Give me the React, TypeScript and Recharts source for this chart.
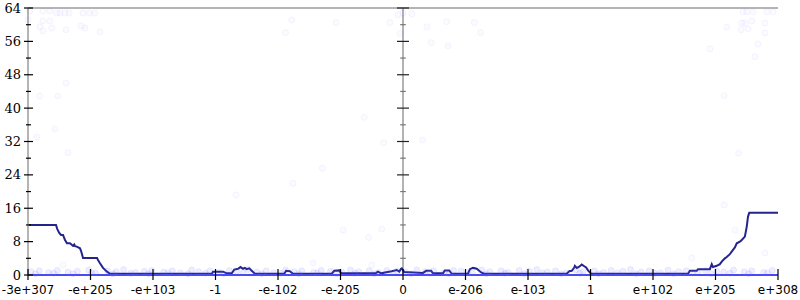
import React from 'react';
import { ComposedChart, Line, Scatter, XAxis, YAxis, ReferenceLine } from 'recharts';

const X_TICKS = [0, 1, 2, 3, 4, 5, 6, 7, 8, 9, 10, 11, 12];
const X_LABELS = [
  '-3e+307', '-e+205', '-e+103', '-1', '-e-102', '-e-205', '0',
  'e-206', 'e-103', '1', 'e+102', 'e+205', 'e+308',
];
const Y_TICKS = [0, 4, 8, 12, 16, 20, 24, 28, 32, 36, 40, 44, 48, 52, 56, 60, 64];

// median line (x in tick units)
const TREND: [number, number][] = [
  [0, 12], [0.448, 12], [0.469, 11], [0.5, 10.1], [0.528, 9.6], [0.56, 9.6],
  [0.592, 8.4], [0.624, 7.6], [0.672, 7.6], [0.704, 7.2], [0.72, 7.0], [0.74, 7.3],
  [0.752, 6.9], [0.78, 6.8], [0.832, 6.4], [0.848, 5.8], [0.875, 4.4], [0.88, 4.1],
  [1.104, 4.1], [1.12, 3.6], [1.152, 2.8], [1.2, 1.7], [1.264, 0.8], [1.312, 0.3],
  [2.944, 0.3], [2.96, 0.8], [3.12, 0.8], [3.18, 0.4], [3.26, 0.4], [3.3, 1.3],
  [3.36, 1.5], [3.4, 1.9], [3.44, 1.5], [3.47, 1.7], [3.5, 1.4], [3.54, 1.6],
  [3.58, 1.0], [3.63, 0.3], [4.1, 0.3], [4.13, 1.0], [4.19, 0.9], [4.24, 0.3],
  [4.86, 0.3], [4.9, 1.0], [4.98, 1.1], [5.01, 0.4], [5.47, 0.4], [5.57, 0.5],
  [5.6, 0.8], [5.65, 0.4], [5.71, 0.6], [5.82, 0.9], [5.9, 1.2], [5.94, 0.8],
  [5.97, 1.5], [5.98, 1.6], [6.02, 0.7], [6.32, 0.5], [6.37, 1.0], [6.45, 1.0],
  [6.48, 0.4], [6.64, 0.4], [6.67, 1.1], [6.74, 1.1], [6.78, 0.3], [7.04, 0.3],
  [7.07, 1.4], [7.12, 1.7], [7.18, 1.5], [7.25, 0.6], [7.3, 0.3], [8.62, 0.3],
  [8.66, 0.9], [8.7, 1.0], [8.74, 1.8], [8.75, 2.2], [8.78, 1.7], [8.82, 2.0],
  [8.86, 2.5], [8.9, 2.1], [8.93, 1.8], [8.96, 1.1], [9.01, 0.3], [10.56, 0.3],
  [10.59, 1.0], [10.7, 1.0], [10.72, 1.4], [10.91, 1.4], [10.94, 2.6], [10.96, 1.9],
  [11.02, 2.2], [11.07, 2.6], [11.1, 3.2], [11.15, 4.0], [11.18, 4.3], [11.23, 5.0],
  [11.28, 6.0], [11.31, 6.6], [11.34, 7.6], [11.39, 8.0], [11.42, 8.4], [11.47, 9.2],
  [11.5, 11.6], [11.52, 14.0], [11.54, 14.9], [12, 14.9],
];

// the dense band of samples near zero
const BAND_DOTS: [number, number][] = [
  [0.05, 0.8], [0.18, 1.0], [0.33, 0.6], [0.47, 1.1], [0.64, 0.7], [0.79, 0.9],
  [0.97, 1.2], [1.08, 0.5], [1.27, 1.0], [1.41, 0.8], [1.53, 1.3], [1.72, 0.6],
  [1.86, 0.9], [1.98, 1.1], [2.17, 0.7], [2.31, 1.0], [2.44, 0.5], [2.62, 1.2],
  [2.73, 0.8], [2.91, 1.0], [3.06, 0.6], [3.22, 1.1], [3.34, 0.9], [3.52, 1.3],
  [3.66, 0.7], [3.81, 1.0], [3.93, 0.5], [4.12, 1.2], [4.26, 0.8], [4.38, 1.0],
  [4.57, 0.6], [4.69, 1.1], [4.84, 0.9], [5.02, 0.7], [5.16, 1.2], [5.29, 0.8],
  [5.46, 1.0], [5.61, 0.6], [5.74, 1.1], [5.91, 0.9], [6.04, 0.7], [6.22, 1.2],
  [6.36, 0.8], [6.49, 1.0], [6.66, 0.6], [6.81, 1.1], [6.93, 0.9], [7.11, 0.5],
  [7.26, 1.2], [7.39, 0.8], [7.57, 1.0], [7.68, 0.6], [7.86, 1.1], [8.02, 0.9],
  [8.14, 1.3], [8.31, 0.7], [8.44, 1.0], [8.61, 0.5], [8.77, 1.2], [8.88, 0.8],
  [9.06, 1.0], [9.21, 0.6], [9.33, 1.1], [9.52, 0.9], [9.64, 1.3], [9.81, 0.7],
  [9.94, 1.0], [10.12, 0.5], [10.24, 1.2], [10.41, 0.8], [10.53, 1.0], [10.72, 0.6],
  [10.84, 1.1], [11.02, 0.9], [11.13, 0.7], [11.29, 1.2], [11.46, 0.8], [11.58, 1.0],
  [11.77, 0.6], [11.91, 1.1],
  [0.12, 0.3], [0.41, 0.4], [0.72, 0.3], [1.02, 0.5], [1.36, 0.3], [1.64, 0.4],
  [1.93, 0.3], [2.24, 0.5], [2.56, 0.3], [2.84, 0.4], [3.13, 0.3], [3.44, 0.5],
  [3.74, 0.3], [4.04, 0.4], [4.33, 0.3], [4.63, 0.5], [4.94, 0.3], [5.23, 0.4],
  [5.54, 0.3], [5.83, 0.5], [6.13, 0.3], [6.43, 0.4], [6.74, 0.3], [7.03, 0.5],
  [7.33, 0.3], [7.63, 0.4], [7.94, 0.3], [8.23, 0.5], [8.53, 0.3], [8.83, 0.4],
  [9.13, 0.3], [9.43, 0.5], [9.73, 0.3], [10.03, 0.4], [10.33, 0.3], [10.63, 0.5],
  [10.93, 0.3], [11.23, 0.4], [11.53, 0.3], [11.83, 0.5],
];

// stray samples higher up
const STRAY_DOTS: [number, number][] = [
  [0.03, 63.3], [0.24, 63.3], [0.35, 63.3], [0.46, 62.8], [0.51, 62.8], [0.59, 62.8],
  [0.66, 62.8], [0.88, 62.8], [0.98, 62.8], [1.07, 62.8], [0.0, 61.2], [0.24, 60.9],
  [0.35, 60.9], [0.19, 59.5], [0.24, 58.5], [0.38, 59.2], [0.61, 58.8], [0.85, 59.7],
  [0.91, 59.2], [1.15, 58.3], [0.61, 46.0], [0.19, 42.9], [0.48, 42.9], [0.43, 35.0],
  [0.14, 33.1], [0.64, 29.3], [0.56, 2.4], [3.33, 19.2], [4.24, 22.0], [4.71, 25.6],
  [5.38, 37.8], [5.69, 31.7], [6.31, 32.4], [5.04, 10.8], [5.45, 9.0], [5.66, 11.0],
  [4.56, 2.9], [5.5, 2.4], [4.12, 58.1], [4.22, 61.1], [4.93, 60.5], [5.79, 60.5],
  [5.92, 62.4], [6.0, 62.8], [6.14, 62.6], [5.95, 57.9], [6.38, 59.5], [6.45, 55.7],
  [6.72, 54.9], [6.7, 60.7], [7.14, 60.5], [7.24, 58.1], [11.18, 59.4], [10.91, 54.2],
  [11.14, 43.0], [11.37, 29.2], [11.14, 16.8], [11.31, 10.8], [10.62, 4.1], [11.79, 5.3],
  [11.44, 63.1], [11.5, 63.1], [11.6, 63.1], [11.82, 63.1], [11.92, 63.1], [11.42, 60.4],
  [11.47, 60.4], [11.58, 60.9], [11.79, 60.4], [11.41, 58.8], [11.52, 59.0], [11.79, 58.0],
  [11.68, 55.4], [11.63, 52.3],
];

const toPoints = (pairs: [number, number][]) => pairs.map(([x, y]) => ({ x, y }));

const trendData = toPoints(TREND);
const bandData = toPoints(BAND_DOTS);
const strayData = toPoints(STRAY_DOTS);

function YTick(props: any) {
  const { x, y, payload, label } = props;
  const major = payload.value % 8 === 0;
  return (
    <g>
      <line x1={x - (major ? 4 : 2)} x2={x + (major ? 5 : 3)} y1={y} y2={y} stroke="#000" strokeWidth={1.2} />
      {label && major && (
        <text x={x - 7} y={y} dy="0.35em" textAnchor="end" fontFamily="DejaVu Serif" fontSize={13} fill="#000">
          {payload.value}
        </text>
      )}
    </g>
  );
}

function XTick(props: any) {
  const { x, y, payload } = props;
  return (
    <g>
      <line x1={x} x2={x} y1={y - 6} y2={y + 5} stroke="#000" strokeWidth={1.2} />
      <text x={x} y={y + 18.5} textAnchor="middle" fontFamily="DejaVu Sans" fontSize={12} fill="#000">
        {X_LABELS[payload.value]}
      </text>
    </g>
  );
}

const BandDot = (p: any) => (
  <circle cx={p.cx} cy={p.cy} r={3} fill="#5a5aff" fillOpacity={0.1} stroke="#7878ff" strokeOpacity={0.12} />
);

const StrayDot = (p: any) => (
  <circle cx={p.cx} cy={p.cy} r={3} fill="#5a5aff" fillOpacity={0.025} stroke="#7878ff" strokeOpacity={0.07} />
);

export default function App() {
  return (
    <div style={{ position: 'absolute', left: 0, top: 0 }}>
      <ComposedChart width={800} height={300} margin={{ top: 8, right: 22, bottom: 0, left: 0 }}>
        <XAxis
          dataKey="x"
          type="number"
          domain={[0, 12]}
          ticks={X_TICKS}
          interval={0}
          height={25}
          tickSize={0}
          tickMargin={0}
          tick={(p: any) => <XTick {...p} />}
          axisLine={{ stroke: '#4a4af5', strokeWidth: 2 }}
        />
        <YAxis
          dataKey="y"
          type="number"
          domain={[0, 64]}
          ticks={Y_TICKS}
          interval={0}
          width={28}
          tickSize={0}
          tickMargin={0}
          tick={(p: any) => <YTick {...p} label />}
          axisLine={{ stroke: '#b4b4b4', strokeWidth: 2 }}
        />
        <YAxis
          yAxisId="r"
          orientation="right"
          type="number"
          domain={[0, 64]}
          ticks={Y_TICKS}
          interval={0}
          width={0}
          tickSize={0}
          tickMargin={0}
          tick={(p: any) => <YTick {...p} />}
          axisLine={{ stroke: '#b4b4b4', strokeWidth: 2 }}
        />
        <ReferenceLine y={64} stroke="#b4b4b4" strokeWidth={2} />
        <ReferenceLine x={6} stroke="#666" strokeWidth={1} />
        {Y_TICKS.map((v) => {
          const half = v % 8 === 0 ? 0.096 : 0.045;
          return (
            <ReferenceLine
              key={v}
              segment={[{ x: 6 - half, y: v }, { x: 6 + half, y: v }]}
              stroke={v % 8 === 0 ? '#222' : '#777'}
              strokeWidth={1.2}
              ifOverflow="visible"
            />
          );
        })}
        <Scatter data={strayData} dataKey="y" shape={StrayDot} isAnimationActive={false} />
        <Scatter data={bandData} dataKey="y" shape={BandDot} isAnimationActive={false} />
        <Line
          data={trendData}
          dataKey="y"
          type="linear"
          stroke="#24248c"
          strokeWidth={2}
          dot={false}
          activeDot={false}
          isAnimationActive={false}
        />
      </ComposedChart>
    </div>
  );
}
